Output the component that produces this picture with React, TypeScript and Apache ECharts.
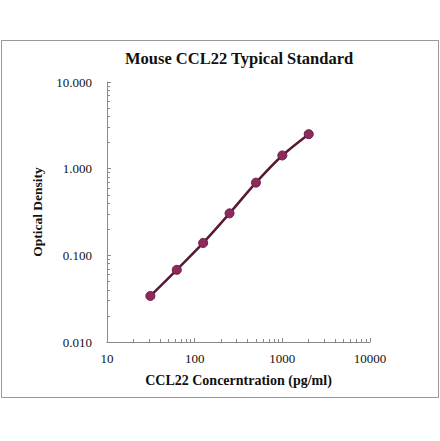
import React, { useEffect, useRef } from "react";
import * as echarts from "echarts";

const concentrations = [31.25, 62.5, 125, 250, 500, 1000, 2000];
const opticalDensity = [0.034, 0.068, 0.139, 0.305, 0.69, 1.42, 2.5];
const xMinorTicks = [20, 30, 40, 50, 60, 70, 80, 90, 200, 300, 400, 500, 600, 700, 800, 900, 2000, 3000, 4000, 5000, 6000, 7000, 8000, 9000];
const yMinorTicks = [0.02, 0.03, 0.04, 0.05, 0.06, 0.07, 0.08, 0.09, 0.2, 0.3, 0.4, 0.5, 0.6, 0.7, 0.8, 0.9, 2, 3, 4, 5, 6, 7, 8, 9];

const SERIF = "'Liberation Serif', 'Times New Roman', serif";
const AXIS_COLOR = "#8a8a8a";

export default function App() {
  const ref = useRef<HTMLDivElement>(null);
  useEffect(() => {
    document.body.style.margin = "0";
    const chart = echarts.init(ref.current!, null, { renderer: "svg" });
    const grid = { left: 107, right: 70, top: 82, bottom: 99 };
    chart.setOption({
      animation: false,
      backgroundColor: "#ffffff",
      title: {
        text: "Mouse CCL22 Typical Standard",
        left: 120,
        top: 45,
        textStyle: { fontFamily: SERIF, fontSize: 16.5, fontWeight: "bold", color: "#111" },
      },
      graphic: [
        {
          type: "rect",
          shape: { x: 1.5, y: 40.5, width: 437, height: 357 },
          style: { fill: "none", stroke: "#999", lineWidth: 1 },
          silent: true,
        },
      ],
      grid,
      xAxis: [
        {
          type: "log",
          logBase: 10,
          min: 10,
          max: 10000,
          name: "CCL22 Concerntration (pg/ml)",
          nameLocation: "middle",
          nameGap: 31,
          nameTextStyle: { fontFamily: SERIF, fontSize: 14, fontWeight: "bold", color: "#111" },
          axisLine: { onZero: false, lineStyle: { color: AXIS_COLOR, width: 1 } },
          axisTick: { show: true, inside: true, length: 4, lineStyle: { color: AXIS_COLOR } },
          axisLabel: {
            fontFamily: SERIF,
            fontSize: 13,
            color: "#111",
            margin: 10,
            formatter: (v: number) => String(Math.round(v)),
          },
          splitLine: { show: false },
        },
        {
          type: "value",
          min: 1,
          max: 4,
          position: "bottom",
          axisLine: { show: false, onZero: false },
          axisLabel: { show: false },
          splitLine: { show: false },
          axisTick: {
            show: true,
            inside: true,
            length: 3,
            customValues: xMinorTicks.map((v) => Math.log10(v)),
            lineStyle: { color: AXIS_COLOR },
          },
        },
      ],
      yAxis: [
        {
          type: "log",
          logBase: 10,
          min: 0.01,
          max: 10,
          name: "Optical Density",
          nameLocation: "middle",
          nameGap: 63,
          nameRotate: 90,
          nameTextStyle: { fontFamily: SERIF, fontSize: 13.5, fontWeight: "bold", color: "#111" },
          axisLine: { show: true, onZero: false, lineStyle: { color: AXIS_COLOR, width: 1 } },
          axisTick: { show: true, inside: true, length: 4, lineStyle: { color: AXIS_COLOR } },
          axisLabel: {
            fontFamily: SERIF,
            fontSize: 13,
            color: "#111",
            margin: 15,
            formatter: (v: number) => v.toFixed(3),
          },
          splitLine: { show: false },
        },
        {
          type: "value",
          min: -2,
          max: 1,
          position: "left",
          axisLine: { show: false, onZero: false },
          axisLabel: { show: false },
          splitLine: { show: false },
          axisTick: {
            show: true,
            inside: true,
            length: 3,
            customValues: yMinorTicks.map((v) => Math.log10(v)),
            lineStyle: { color: AXIS_COLOR },
          },
        },
      ],
      series: [
        {
          type: "line",
          xAxisIndex: 0,
          yAxisIndex: 0,
          data: concentrations.map((c, i) => [c, opticalDensity[i]]),
          smooth: 0.3,
          symbol: "circle",
          symbolSize: 9,
          lineStyle: { color: "#5a1838", width: 2.5 },
          itemStyle: { color: "#8c2b5c", borderColor: "#6a1c44", borderWidth: 1 },
        },
      ],
    });
    return () => chart.dispose();
  }, []);
  return <div ref={ref} style={{ width: 440, height: 441 }} />;
}
